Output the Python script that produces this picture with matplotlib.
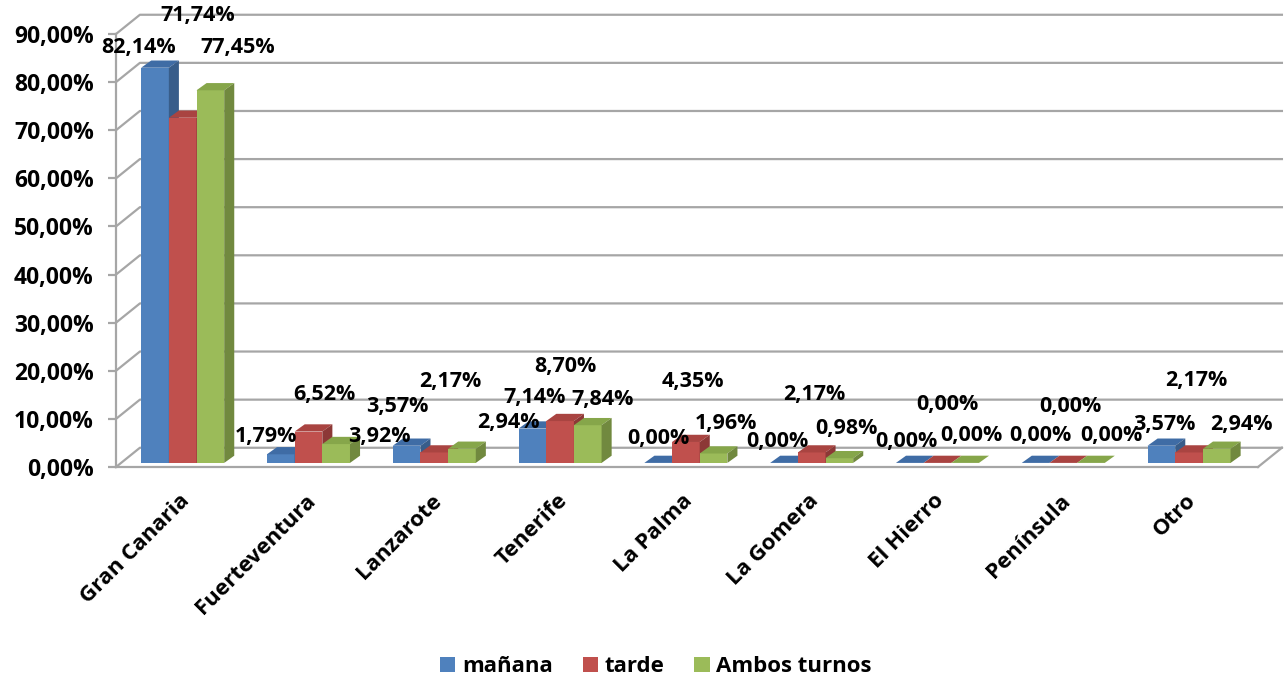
import numpy as np
import matplotlib.pyplot as plt
from matplotlib.patches import Polygon, Patch

plt.rcParams['font.family'] = ['Open Sans', 'DejaVu Sans']
plt.rcParams['font.weight'] = 'bold'

categories = ['Gran Canaria', 'Fuerteventura', 'Lanzarote', 'Tenerife', 'La Palma',
              'La Gomera', 'El Hierro', 'Península', 'Otro']
series = ['mañana', 'tarde', 'Ambos turnos']
manana = [82.14, 1.79, 3.57, 7.14, 0.00, 0.00, 0.00, 0.00, 3.57]
tarde = [71.74, 6.52, 2.17, 8.70, 4.35, 2.17, 0.00, 0.00, 2.17]
ambos = [77.45, 3.92, 2.94, 7.84, 1.96, 0.98, 0.00, 0.00, 2.94]
yticks = [0, 10, 20, 30, 40, 50, 60, 70, 80, 90]

# where Excel dropped the data labels (x offset in category units, y in %)
lbl_dx = [[-0.13, 0.12, 0.22], [-0.12, 0.13, 0.34], [-0.07, 0.13, 0.37],
          [0.02, 0.04, 0.12], [0.0, 0.055, 0.10], [-0.05, 0.02, 0.055],
          [-0.03, 0.08, 0.05], [0.04, 0.06, 0.16], [0.02, 0.06, 0.2]]
lbl_y = [[87.1, 93.8, 87.1], [6.3, 15.0, 6.3], [12.5, 17.8, 9.2],
         [14.4, 20.9, 14.0], [6.0, 17.7, 9.1], [5.2, 15.0, 8.1],
         [5.2, 12.9, 6.65], [6.65, 12.5, 6.65], [8.8, 18.0, 8.8]]

front = ['#4F81BD', '#C0504D', '#9BBB59']
top_c = ['#3F6CA5', '#A94441', '#86A64A']
side_c = ['#385D8A', '#8C3836', '#71893F']
grid_c = '#A6A6A6'

fig = plt.figure(figsize=(12.87, 6.81), dpi=100)
ax = fig.add_axes([116 / 1287, 214 / 681, 1142 / 1287, 433 / 681])
x0, x1 = -0.5, 8.578
ax.set_xlim(x0, x1)
ax.set_ylim(0, 90)

# wall depth and bar depth in data units
wdx, wdy = 0.19, 4.0
bdx, bdy = 0.08, 1.5
base, shift, w = 0.85, 0.03, 0.22

# back wall gridlines + left wall diagonals
for t in yticks:
    ax.plot([x0, x0 + wdx, x1 + wdx], [t, t + wdy, t + wdy], color=grid_c, lw=1.6,
            clip_on=False, zorder=1)
# floor
ax.plot([x1, x1 + wdx], [0, wdy], color=grid_c, lw=1.6, clip_on=False, zorder=1)

x = np.arange(len(categories))
for j, vals in enumerate([manana, tarde, ambos]):
    for i, v in enumerate(vals):
        xl = x[i] + (j - 1) * w + shift - w / 2
        xr = xl + w
        yt = base + v
        z = 3 + i * 3 + j
        ax.bar(xl, v, width=w, bottom=base, align='edge', color=front[j], zorder=z)
        ax.add_patch(Polygon([(xl, yt), (xr, yt), (xr + bdx, yt + bdy), (xl + bdx, yt + bdy)],
                             closed=True, facecolor=top_c[j], edgecolor='none', zorder=z))
        ax.add_patch(Polygon([(xr, base), (xr, yt), (xr + bdx, yt + bdy), (xr + bdx, base + bdy)],
                             closed=True, facecolor=side_c[j], edgecolor='none', zorder=z))
        ax.text(x[i] + (j - 1) * w + shift + lbl_dx[i][j], lbl_y[i][j],
                f'{v:.2f}%'.replace('.', ','), ha='center', va='center',
                fontsize=15.5, fontweight='bold', zorder=40, clip_on=False)

for s in ['top', 'right']:
    ax.spines[s].set_visible(False)
for s in ['left', 'bottom']:
    ax.spines[s].set_color(grid_c)
    ax.spines[s].set_linewidth(1.6)

ax.set_yticks(yticks)
ax.set_yticklabels([f'{t:.2f}%'.replace('.', ',') for t in yticks], fontsize=16.5, fontweight='bold')
ax.tick_params(axis='y', length=6, width=1.6, color=grid_c, pad=10)
ax.set_xticks(x + 0.06)
ax.set_xticklabels(categories, rotation=45, ha='right', va='center', rotation_mode='anchor',
                   fontsize=16, fontweight='bold')
ax.tick_params(axis='x', length=0, pad=22)

handles = [Patch(facecolor=c) for c in front]
fig.legend(handles, series, loc='center', bbox_to_anchor=(656 / 1287, 1 - 667 / 681), ncol=3,
           frameon=False, handlelength=0.68, handleheight=0.68, handletextpad=0.3,
           columnspacing=1.35, prop={'size': 16, 'weight': 'bold'})

fig.savefig('out.png', dpi=100)
